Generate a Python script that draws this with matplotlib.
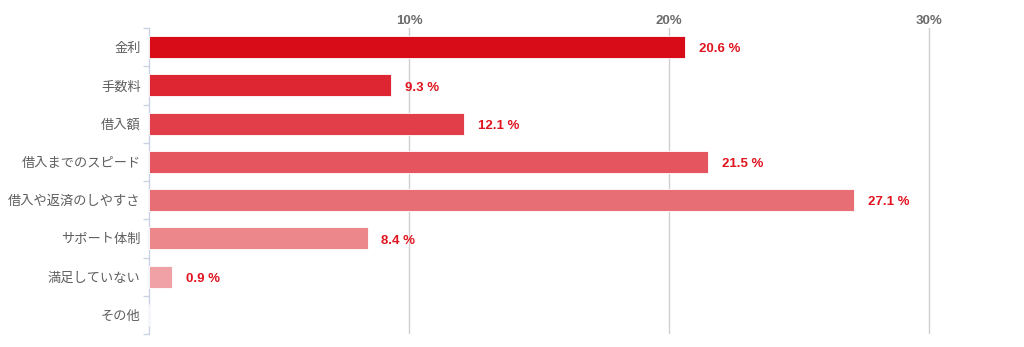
import matplotlib
matplotlib.use("Agg")
import matplotlib.pyplot as plt
import numpy as np

categories = ["金利", "手数料", "借入額", "借入までのスピード", "借入や返済のしやすさ",
              "サポート体制", "満足していない", "その他"]
values = [20.6, 9.3, 12.1, 21.5, 27.1, 8.4, 0.9, 0.0]
bar_colors = ["#D80C18", "#DE2632", "#E13E49", "#E4555F", "#E86E75", "#EC878C", "#F0A1A5", "#F4BABD"]
x_ticks = [10, 20, 30]
x_tick_labels = ["10%", "20%", "30%"]

fig = plt.figure(figsize=(10.24, 3.47), dpi=100)
ax = fig.add_axes([149 / 1024, 1 - 334 / 347, (1010 - 149) / 1024, (334 - 28) / 347])

y = np.arange(len(categories))
ax.barh(y, values, height=0.58, color=bar_colors, edgecolor="white", linewidth=0.6, zorder=3)

ax.set_xlim(0, 33.1)
ax.set_ylim(len(categories) - 0.5, -0.5)

# value labels next to each bar
for yi, v in zip(y, values):
    if v <= 0:
        continue
    ax.annotate(f"{v:.1f} %", xy=(v, yi), xytext=(10, -0.5), textcoords="offset points",
                va="center_baseline", ha="left", fontsize=9.5, fontweight="bold",
                color="#E0141F", family="Liberation Sans")

# x axis on top, gridlines only
ax.xaxis.tick_top()
ax.set_xticks(x_ticks)
ax.set_xticklabels(x_tick_labels, fontsize=9.5, fontweight="bold", color="#6B6B6B",
                   family="Liberation Sans")
ax.tick_params(axis="x", length=0, pad=1)
ax.grid(axis="x", color="#CFCFCF", linewidth=1.0, zorder=0)

ax.set_yticks(y)
ax.set_yticklabels(categories, fontsize=9.5, color="#5E5E5E",
                   family=["Noto Sans CJK JP", "DejaVu Sans"])
ax.tick_params(axis="y", which="major", length=0, pad=6)
ax.set_yticks(np.arange(-0.5, len(categories)), minor=True)
ax.tick_params(axis="y", which="minor", length=4, width=1, color="#C9D3E3")

for side in ["top", "right", "bottom"]:
    ax.spines[side].set_visible(False)
ax.spines["left"].set_color("#C9D3E3")
ax.spines["left"].set_linewidth(1.0)

fig.savefig("out.png", dpi=100)
